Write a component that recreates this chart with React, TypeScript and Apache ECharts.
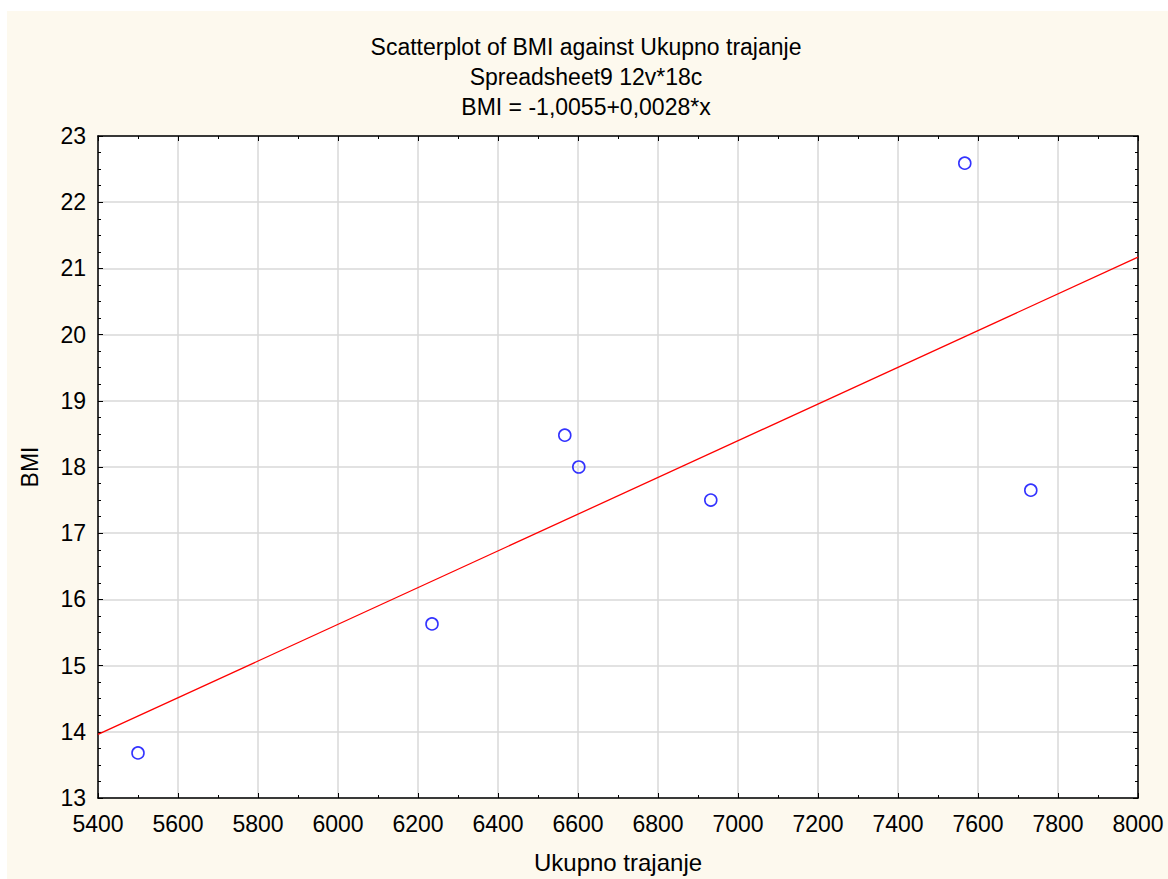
import React, { useEffect, useRef } from "react";
import * as echarts from "echarts";

const titleLines = [
  "Scatterplot of BMI against Ukupno trajanje",
  "Spreadsheet9 12v*18c",
  "BMI = -1,0055+0,0028*x",
];
const xName = "Ukupno trajanje";
const yName = "BMI";
const ukupnoTrajanje = [5500, 6235, 6567, 6602, 6932, 7567, 7732];
const bmi = [13.68, 15.63, 18.48, 18.0, 17.5, 22.59, 17.65];
const fitX = [5400, 8000];
const fitY = [13.96, 21.17];

const FONT = "'Liberation Sans', Arial, sans-serif";

export default function App() {
  const ref = useRef<HTMLDivElement>(null);
  useEffect(() => {
    if (!ref.current) return;
    const chart = echarts.init(ref.current, null, { renderer: "svg" });
    const axisCommon = {
      axisLine: { show: true, onZero: false, lineStyle: { color: "#000", width: 1.5 } },
      axisTick: { show: true, inside: true, length: 5, lineStyle: { color: "#000", width: 1 } },
      minorTick: { show: true, length: 3, lineStyle: { color: "#000", width: 1 } },
    };
    chart.setOption({
      animation: false,
      backgroundColor: "#FDF9EE",
      textStyle: { fontFamily: FONT },
      title: titleLines.map((t, i) => ({
        text: t,
        left: 574,
        textAlign: "center",
        top: 19 + i * 30,
        textStyle: { fontFamily: FONT, fontSize: 23, fontWeight: "normal", color: "#000" },
      })),
      grid: {
        left: 91,
        top: 125,
        right: 30,
        bottom: 81,
        containLabel: false,
        outerBoundsMode: "none",
        show: true,
        backgroundColor: "#fff",
        borderWidth: 0,
      },
      xAxis: [
        {
          type: "value",
          min: 5400,
          max: 8000,
          interval: 200,
          position: "bottom",
          name: xName,
          nameLocation: "middle",
          nameGap: 52,
          nameTextStyle: { fontFamily: FONT, fontSize: 24, color: "#000" },
          ...axisCommon,
          minorTick: { ...axisCommon.minorTick, splitNumber: 2 },
          axisLabel: { fontFamily: FONT, fontSize: 23, color: "#000", margin: 14, formatter: (v: number) => String(v) },
          splitLine: { show: true, lineStyle: { color: "#D9D9D9", width: 1.5 } },
        },
        {
          type: "value",
          min: 5400,
          max: 8000,
          interval: 200,
          position: "top",
          ...axisCommon,
          minorTick: { ...axisCommon.minorTick, splitNumber: 2 },
          axisLabel: { show: false },
          splitLine: { show: false },
        },
      ],
      yAxis: [
        {
          type: "value",
          min: 13,
          max: 23,
          interval: 1,
          position: "left",
          name: yName,
          nameLocation: "middle",
          nameGap: 57,
          nameTextStyle: { fontFamily: FONT, fontSize: 23, color: "#000" },
          ...axisCommon,
          minorTick: { ...axisCommon.minorTick, splitNumber: 4 },
          axisLabel: { fontFamily: FONT, fontSize: 23, color: "#000", margin: 12, formatter: (v: number) => String(v) },
          splitLine: { show: true, lineStyle: { color: "#D9D9D9", width: 1.5 } },
        },
        {
          type: "value",
          min: 13,
          max: 23,
          interval: 1,
          position: "right",
          ...axisCommon,
          minorTick: { ...axisCommon.minorTick, splitNumber: 4 },
          axisLabel: { show: false },
          splitLine: { show: false },
        },
      ],
      series: [
        {
          type: "line",
          data: fitX.map((x, i) => [x, fitY[i]]),
          showSymbol: false,
          symbol: "none",
          lineStyle: { color: "#FF0000", width: 1.3 },
          silent: true,
          z: 2,
        },
        {
          type: "scatter",
          data: ukupnoTrajanje.map((x, i) => [x, bmi[i]]),
          symbol: "circle",
          symbolSize: 12,
          itemStyle: { color: "rgba(255,255,255,0)", borderColor: "#0000FF", borderWidth: 1.6 },
          z: 3,
        },
      ],
    });
    return () => chart.dispose();
  }, []);
  return (
    <div
      ref={ref}
      style={{ position: "absolute", left: 7, top: 11, width: 1161, height: 868 }}
    />
  );
}
